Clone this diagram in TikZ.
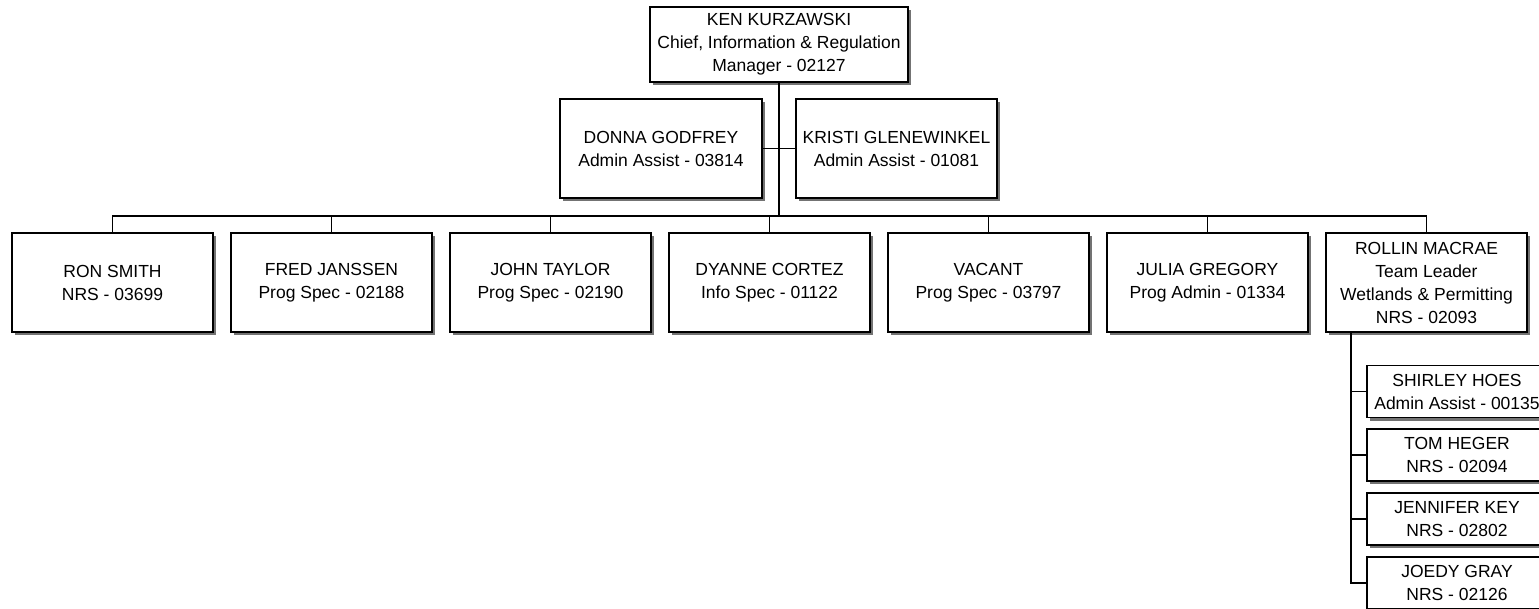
\documentclass[tikz,border=0pt]{standalone}
\usepackage{fontspec}
\setmainfont{Liberation Sans}
\usetikzlibrary{shadows}
\begin{document}
\begin{tikzpicture}[x=1pt,y=1pt,
  box/.style={draw=black, line width=1.6pt, fill=white, align=center, inner sep=0pt,
    font=\fontsize{17.5}{23}\selectfont,
    execute at begin node={\rule{0pt}{16.8pt}},
    drop shadow={shadow xshift=3pt, shadow yshift=-3pt, fill=black!55, opacity=1}},
  rowbox/.style={box, minimum width=201pt, minimum height=99pt},
  subbox/.style={box, minimum width=180pt, minimum height=52pt},
  link/.style={draw=black, line width=1.3pt}]
\useasboundingbox (0,0) rectangle (1539,-608);
\clip (0,0) rectangle (1539,-608);
\fill[white] (0,0) rectangle (1539,-608);

\node[box, minimum width=258pt, minimum height=75pt] (top) at (779,-44.5)
  {KEN KURZAWSKI\\Chief, Information \& Regulation\\Manager - 02127};

\coordinate (bus) at (779,-216);
\draw[link] (top.south) -- (bus);

\node[rowbox, minimum width=202pt] (donna) at (661,-148.5) {DONNA GODFREY\\Admin Assist - 03814};
\node[rowbox] (kristi) at (896.5,-148.5) {KRISTI GLENEWINKEL\\Admin Assist - 01081};
\draw[link] (donna.east) -- (kristi.west);

\node[rowbox] (ron) at (112.5,-282.5) {RON SMITH\\NRS - 03699};
\node[rowbox] (fred) at (331.5,-282.5) {FRED JANSSEN\\Prog Spec - 02188};
\node[rowbox] (john) at (550.5,-282.5) {JOHN TAYLOR\\Prog Spec - 02190};
\node[rowbox] (dyanne) at (769.5,-282.5) {DYANNE CORTEZ\\Info Spec - 01122};
\node[rowbox] (vacant) at (988.5,-282.5) {VACANT\\Prog Spec - 03797};
\node[rowbox] (julia) at (1207.5,-282.5) {JULIA GREGORY\\Prog Admin - 01334};
\node[rowbox] (rollin) at (1426.5,-282.5) {ROLLIN MACRAE\\Team Leader\\Wetlands \& Permitting\\NRS - 02093};

\foreach \c in {ron,fred,john,dyanne,vacant,julia,rollin}
  \draw[link] (bus) -| (\c.north);

\node[subbox] (shirley) at (1457,-391.5) {SHIRLEY HOES\\Admin Assist - 00135};
\node[subbox] (tom) at (1457,-455) {TOM HEGER\\NRS - 02094};
\node[subbox] (jennifer) at (1457,-519) {JENNIFER KEY\\NRS - 02802};
\node[subbox] (joedy) at (1457,-583) {JOEDY GRAY\\NRS - 02126};

\coordinate (rs) at (1351,-332);
\foreach \c in {shirley,tom,jennifer,joedy}
  \draw[link] (rs) |- (\c.west);
\end{tikzpicture}
\end{document}
